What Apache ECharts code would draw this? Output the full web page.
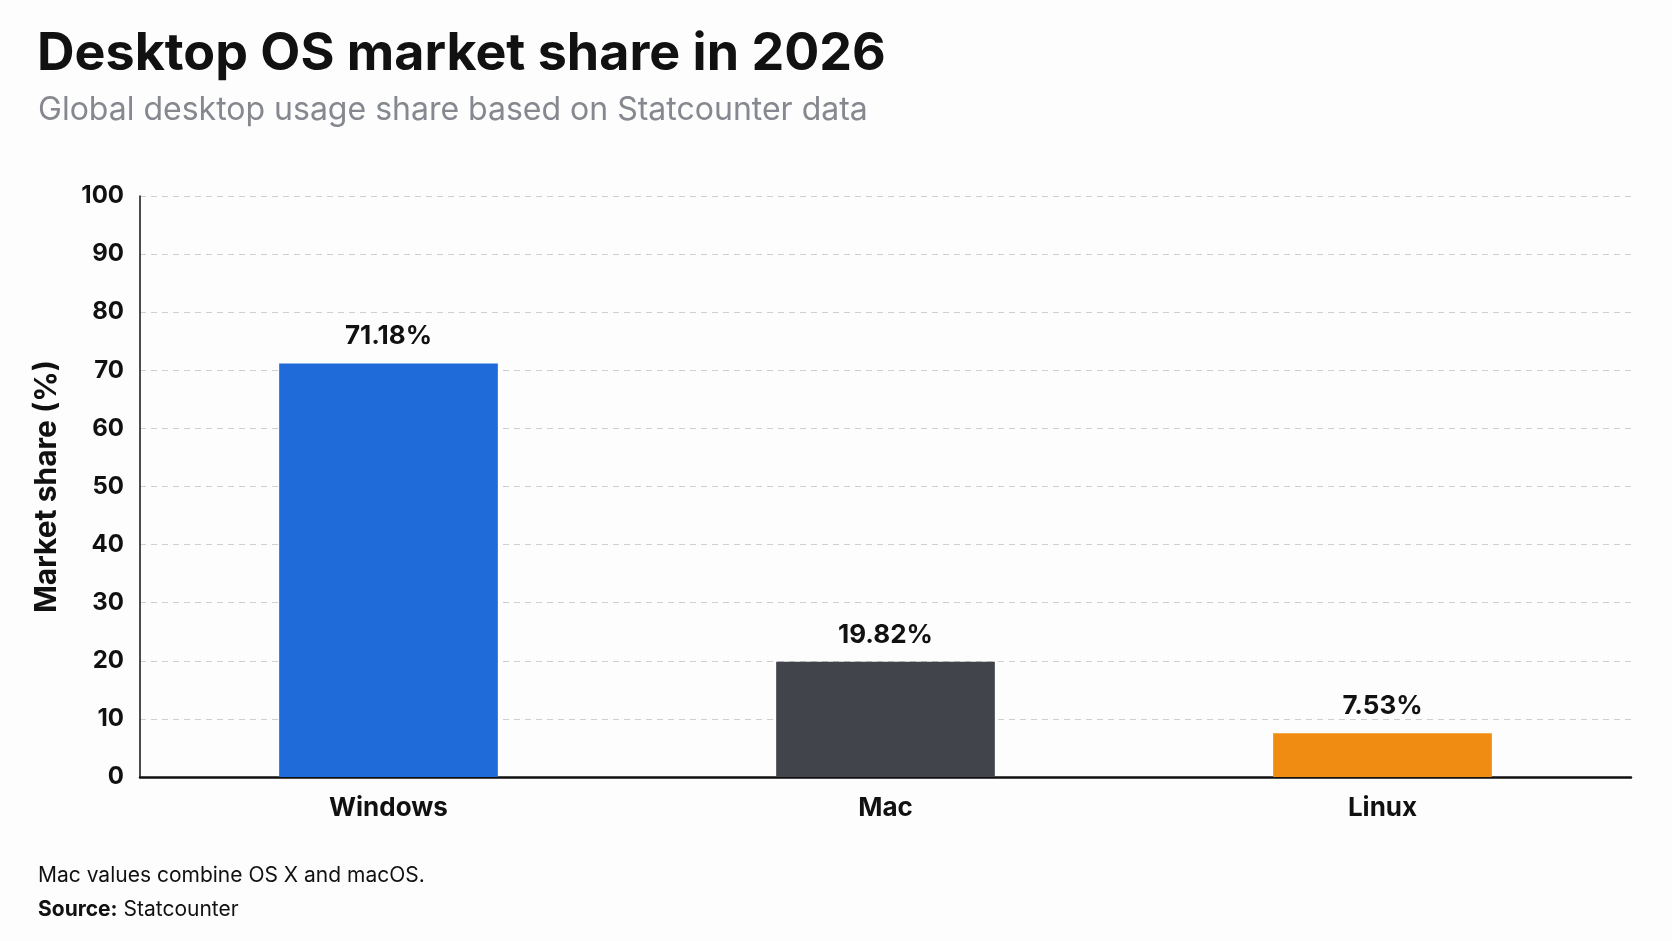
<!DOCTYPE html>
<html>
<head>
<meta charset="utf-8">
<script src="https://cdn.jsdelivr.net/npm/echarts@6/dist/echarts.min.js"></script>
<style>
html,body{margin:0;padding:0;background:#fdfdfd;}
#chart{width:1672px;height:941px;}
</style>
</head>
<body>
<div id="chart"></div>
<script>
// 数据
var categories = ['Windows', 'Mac', 'Linux'];
var shares = [71.18, 19.82, 7.53];
var barColors = ['#1f6bd9', '#41444b', '#f08c12'];
var yTicks = [0, 10, 20, 30, 40, 50, 60, 70, 80, 90, 100];

var FONT = 'Inter, "Noto Sans", sans-serif';

var myChart = echarts.init(document.getElementById('chart'));

var barData = [];
for (var i = 0; i < shares.length; i++) {
	barData.push({value: shares[i], itemStyle: {color: barColors[i]}});
}

var option = {
	backgroundColor: '#fdfdfd',
	title: [
		{
			text: 'Desktop OS market share in 2026',
			left: 32, top: 23,
			textStyle: {fontFamily: FONT, fontSize: 52, fontWeight: 'bold', color: '#111'}
		},
		{
			text: 'Global desktop usage share based on Statcounter data',
			left: 33, top: 89,
			textStyle: {fontFamily: FONT, fontSize: 32, fontWeight: 'normal', color: '#85888e'}
		},
		{
			text: 'Mac values combine OS X and macOS.',
			left: 33, top: 860,
			textStyle: {fontFamily: FONT, fontSize: 21, fontWeight: 'normal', color: '#111'}
		},
		{
			text: '{b|Source:} Statcounter',
			left: 33, top: 894,
			textStyle: {
				fontFamily: FONT, fontSize: 21, fontWeight: 'normal', color: '#111',
				rich: {b: {fontFamily: FONT, fontSize: 21, fontWeight: 'bold', color: '#111'}}
			}
		}
	],
	grid: {left: 140, right: 41, top: 196, bottom: 164},
	xAxis: {
		type: 'category',
		data: categories,
		axisLine: {lineStyle: {color: '#111', width: 2.5}},
		axisTick: {show: false},
		axisLabel: {fontFamily: FONT, fontSize: 26, fontWeight: 'bold', color: '#111', margin: 18}
	},
	yAxis: {
		type: 'value',
		min: yTicks[0], max: yTicks[yTicks.length - 1], interval: 10,
		name: 'Market share (%)',
		nameLocation: 'middle',
		nameGap: 78,
		nameTextStyle: {fontFamily: FONT, fontSize: 30, fontWeight: 'bold', color: '#111'},
		axisLine: {show: true, lineStyle: {color: '#111', width: 1.5}},
		axisTick: {show: false},
		axisLabel: {fontFamily: FONT, fontSize: 24, fontWeight: 'bold', color: '#111', margin: 16},
		splitLine: {lineStyle: {color: '#cfcfcf', type: [6, 5], width: 1}}
	},
	series: [{
		type: 'bar',
		data: barData,
		barWidth: '44%',
		label: {
			show: true, position: 'top', distance: 14,
			fontFamily: FONT, fontSize: 26, fontWeight: 'bold', color: '#111',
			formatter: function (p) { return p.value.toFixed(2) + '%'; }
		}
	}]
};
myChart.setOption(option);
</script>
</body>
</html>
